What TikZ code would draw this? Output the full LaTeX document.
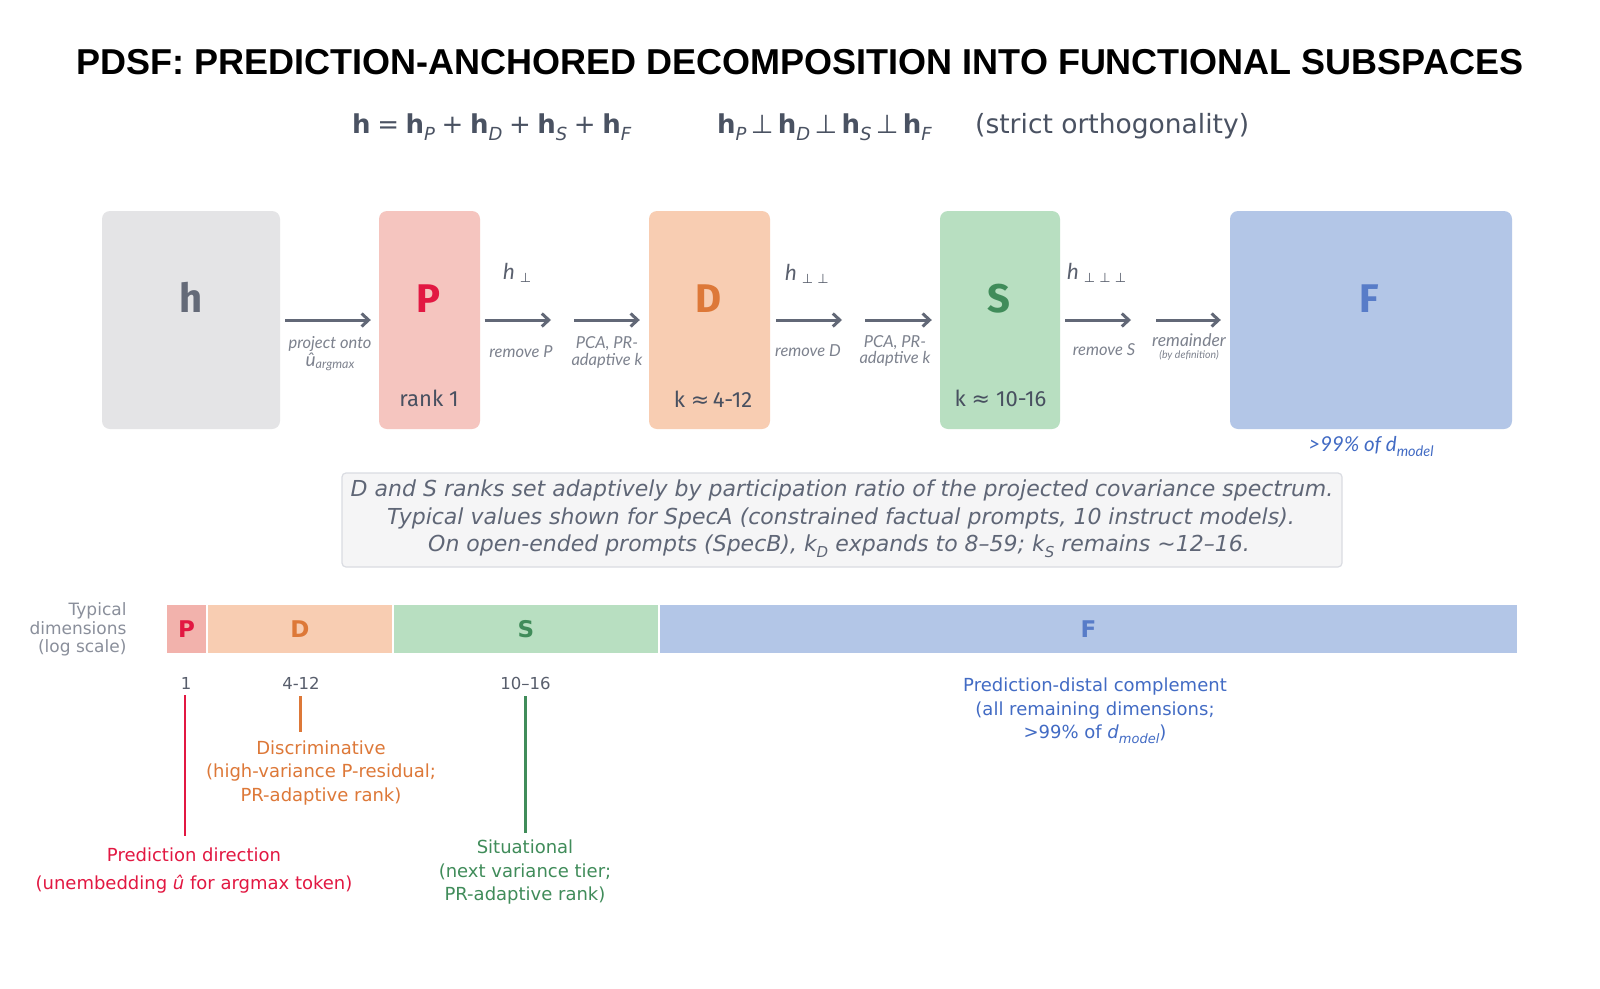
\documentclass[tikz,border=0pt]{standalone}
\usepackage{fontspec}
\setmainfont{DejaVu Sans}
\newfontfamily\titlefont{Liberation Sans}
\newfontfamily\fira{Fira Sans}
\newfontfamily\lato{Lato}
\newfontfamily\djv{DejaVu Sans}
\usetikzlibrary{arrows.meta}
\newcommand\fsz[1]{\fontsize{#1}{#1}\selectfont}
\newcommand\subit[2][12]{\raisebox{-0.28em}{\fontsize{#1}{#1}\selectfont\itshape #2}}
\newcommand\hb[1]{\textbf{h}\subit[18]{#1}}
\newcommand\esp{\hspace{6.6pt}}
\definecolor{eqc}{RGB}{74,82,98}
\definecolor{darkc}{RGB}{72,80,96}
\definecolor{arrowc}{RGB}{98,104,119}
\definecolor{lblc}{RGB}{125,130,142}
\definecolor{hlblc}{RGB}{90,96,110}
\definecolor{hfill}{RGB}{228,228,230}
\definecolor{pfill}{RGB}{245,197,191}
\definecolor{dfill}{RGB}{248,205,178}
\definecolor{sfill}{RGB}{184,223,193}
\definecolor{ffill}{RGB}{179,198,231}
\definecolor{pbar}{RGB}{242,178,172}
\definecolor{hletter}{RGB}{100,106,120}
\definecolor{redc}{RGB}{226,24,66}
\definecolor{orc}{RGB}{221,120,56}
\definecolor{grc}{RGB}{64,140,90}
\definecolor{bluec}{RGB}{66,107,196}
\definecolor{fletter}{RGB}{88,124,200}
\definecolor{notefill}{RGB}{245,245,246}
\definecolor{notedraw}{RGB}{218,220,226}
\definecolor{notetext}{RGB}{95,102,118}
\definecolor{typc}{RGB}{138,143,155}
\definecolor{tickc}{RGB}{88,94,108}
\begin{document}
\begin{tikzpicture}[x=1pt,y=-1pt,
  box/.style={rectangle, rounded corners=8pt, inner sep=0pt, minimum height=218pt},
  bigl/.style={anchor=base, font=\fira\bfseries\fsz{40}},
  rankl/.style={anchor=base, font=\fira\fsz{22}, text=darkc},
  arr/.style={draw=arrowc, line width=3pt, -{Straight Barb[length=7pt,width=13pt]}},
  albl/.style={anchor=base, font=\lato\itshape\fsz{16.5}, text=lblc},
  hlbl/.style={anchor=base west, font=\lato\itshape\fsz{22}, text=hlblc, inner sep=0pt},
  notel/.style={anchor=base, font=\djv\itshape\fsz{22}, text=notetext},
  seg/.style={rectangle, draw=white, line width=1.5pt, inner sep=0pt, minimum height=50pt, font=\djv\bfseries\fsz{23}},
  typl/.style={anchor=base east, font=\djv\fsz{17}, text=typc},
  tickl/.style={anchor=base, font=\djv\fsz{16.5}, text=tickc},
  desc/.style={anchor=base, font=\djv\fsz{18}},
  vline/.style={line width=2.5pt}
]
\useasboundingbox (0,0) rectangle (1600,988);
\fill[white] (0,0) rectangle (1600,988);

% title
\node[anchor=base, font=\titlefont\bfseries\fsz{36}] (title) at (800,74)
  {PDSF: PREDICTION-ANCHORED DECOMPOSITION INTO FUNCTIONAL SUBSPACES};

% equations
\node[anchor=base west, inner sep=0pt, font=\djv\fsz{26}, text=eqc] (eq1) at (352,133)
  {\textbf{h}\esp=\esp\hb{P}\esp+\esp\hb{D}\esp+\esp\hb{S}\esp+\esp\hb{F}};
\node[anchor=base west, inner sep=0pt, font=\djv\fsz{26}, text=eqc] (eq2) at (717,133)
  {\hb{P}\,⊥\,\hb{D}\,⊥\,\hb{S}\,⊥\,\hb{F}};
\node[anchor=base west, inner sep=0pt, font=\djv\fsz{26.5}, text=eqc] (eq3) at (975,133)
  {(strict orthogonality)};

% boxes
\node[box, fill=hfill, minimum width=178pt] (hbox) at (191,320) {};
\node[box, fill=pfill, minimum width=101pt] (pbox) at (429.5,320) {};
\node[box, fill=dfill, minimum width=121pt] (dbox) at (709.5,320) {};
\node[box, fill=sfill, minimum width=120pt] (sbox) at (1000,320) {};
\node[box, fill=ffill, minimum width=282pt] (fbox) at (1371,320) {};

\node[bigl, text=hletter] (hl) at (191,312) {h};
\node[bigl, text=redc] (pl) at (428,312) {P};
\node[bigl, text=orc] (dl) at (709,312) {D};
\node[bigl, text=grc] (sl) at (999,312) {S};
\node[bigl, text=fletter] (fl) at (1369,312) {F};

\node[rankl] (pr) at (429,406) {rank 1};
\node[rankl] (dr) at (713,407) {k {\djv≈}\,4-12};
\node[rankl] (sr) at (1000.5,406) {k {\djv≈} 10-16};
\node[anchor=base, font=\lato\itshape\fsz{20.5}, text=bluec] (fr) at (1371,451)
  {>99\% of d\subit[14.5]{model}};

% arrows
\coordinate (c2) at (551,320);
\coordinate (c3) at (574,320);
\coordinate (c4) at (842,320);
\coordinate (c5) at (865,320);
\coordinate (c6) at (1131,320);
\coordinate (c7) at (1156,320);
\draw[arr] ([xshift=5pt]hbox.east) -- ([xshift=-8pt]pbox.west);
\draw[arr] ([xshift=4.5pt]pbox.east) -- (c2);
\draw[arr] (c3) -- ([xshift=-9pt]dbox.west);
\draw[arr] ([xshift=6pt]dbox.east) -- (c4);
\draw[arr] (c5) -- ([xshift=-8pt]sbox.west);
\draw[arr] ([xshift=5pt]sbox.east) -- (c6);
\draw[arr] (c7) -- ([xshift=-9pt]fbox.west);

% arrow labels
\node[albl] (a1a) at (330,348) {project onto};
\node[albl] (a1b) at (330,366) {{\fsz{19}û}{\fsz{12.5}\raisebox{-2pt}{argmax}}};
\node[albl] (a2) at (521,357) {remove P};
\node[albl] (a3a) at (607,348) {PCA, PR-};
\node[albl] (a3b) at (607,365) {adaptive k};
\node[albl] (a4) at (808,356) {remove D};
\node[albl] (a5a) at (895,347) {PCA, PR-};
\node[albl] (a5b) at (895,363) {adaptive k};
\node[albl] (a6) at (1104,355) {remove S};
\node[albl, font=\lato\itshape\fsz{17.5}] (a7a) at (1189,346) {remainder};
\node[albl, font=\lato\itshape\fsz{10.5}] (a7b) at (1189,358) {(by definition)};

\node[hlbl] (h1) at (503,279) {h\hspace{5pt}\raisebox{-3pt}{\djv\upshape\fsz{13}⊥}};
\node[hlbl] (h2) at (785,280) {h\hspace{5pt}\raisebox{-3pt}{\djv\upshape\fsz{13}⊥ ⊥}};
\node[hlbl] (h3) at (1067,279) {h\hspace{5pt}\raisebox{-3pt}{\djv\upshape\fsz{13}⊥ ⊥ ⊥}};

% note
\node[rectangle, rounded corners=4pt, fill=notefill, draw=notedraw, line width=1.2pt,
  minimum width=1000pt, minimum height=94pt] (note) at (842,520) {};
\node[notel] (n1) at (842,496.5) {D and S ranks set adaptively by participation ratio of the projected covariance spectrum.};
\node[notel] (n2) at (841,524) {Typical values shown for SpecA (constrained factual prompts, 10 instruct models).};
\node[notel] (n3) at (839,551) {On open-ended prompts (SpecB), k\subit[15]{D} expands to 8–59; k\subit[15]{S} remains \textasciitilde12–16.};

% bar
\node[seg, fill=pbar, minimum width=41pt, text=redc] (bp) at (186.5,629) {P};
\node[seg, fill=dfill, minimum width=186pt, text=orc] (bd) at (300,629) {D};
\node[seg, fill=sfill, minimum width=266pt, text=grc] (bs) at (526,629) {S};
\node[seg, fill=ffill, minimum width=859pt, text=fletter] (bf) at (1088.5,629) {F};

\node[typl] (t1) at (130,615) {Typical};
\node[typl] (t2) at (130,634) {dimensions};
\node[typl] (t3) at (130,652) {(log scale)};

\node[tickl] (k1) at (186,689) {1};
\node[tickl] (k2) at (301,689) {4-12};
\node[tickl] (k3) at (525.5,689) {10–16};

% lines
\coordinate (r1) at (185,695);
\coordinate (r2) at (185,836);
\coordinate (o1) at (300.5,696);
\coordinate (o2) at (300.5,732);
\coordinate (g1) at (525.5,696);
\coordinate (g2) at (525.5,833);
\draw[vline, redc] (r1) -- (r2);
\draw[vline, orc] (o1) -- (o2);
\draw[vline, grc] (g1) -- (g2);

% descriptions
\node[desc, text=orc] (do1) at (321,754) {Discriminative};
\node[desc, text=orc] (do2) at (321,777.5) {(high-variance P-residual;};
\node[desc, text=orc] (do3) at (321,801) {PR-adaptive rank)};

\node[desc, text=redc] (dr1) at (194,861) {Prediction direction};
\node[desc, text=redc] (dr2) at (194,889) {(unembedding \textit{û} for argmax token)};

\node[desc, text=grc] (dg1) at (525,853) {Situational};
\node[desc, text=grc] (dg2) at (525,877) {(next variance tier;};
\node[desc, text=grc] (dg3) at (525,900) {PR-adaptive rank)};

\node[desc, text=bluec] (db1) at (1095,691.5) {Prediction-distal complement};
\node[desc, text=bluec] (db2) at (1095,715) {(all remaining dimensions;};
\node[desc, text=bluec] (db3) at (1095,738.5) {>99\% of \textit{d}\subit[13]{model})};
\end{tikzpicture}
\end{document}
